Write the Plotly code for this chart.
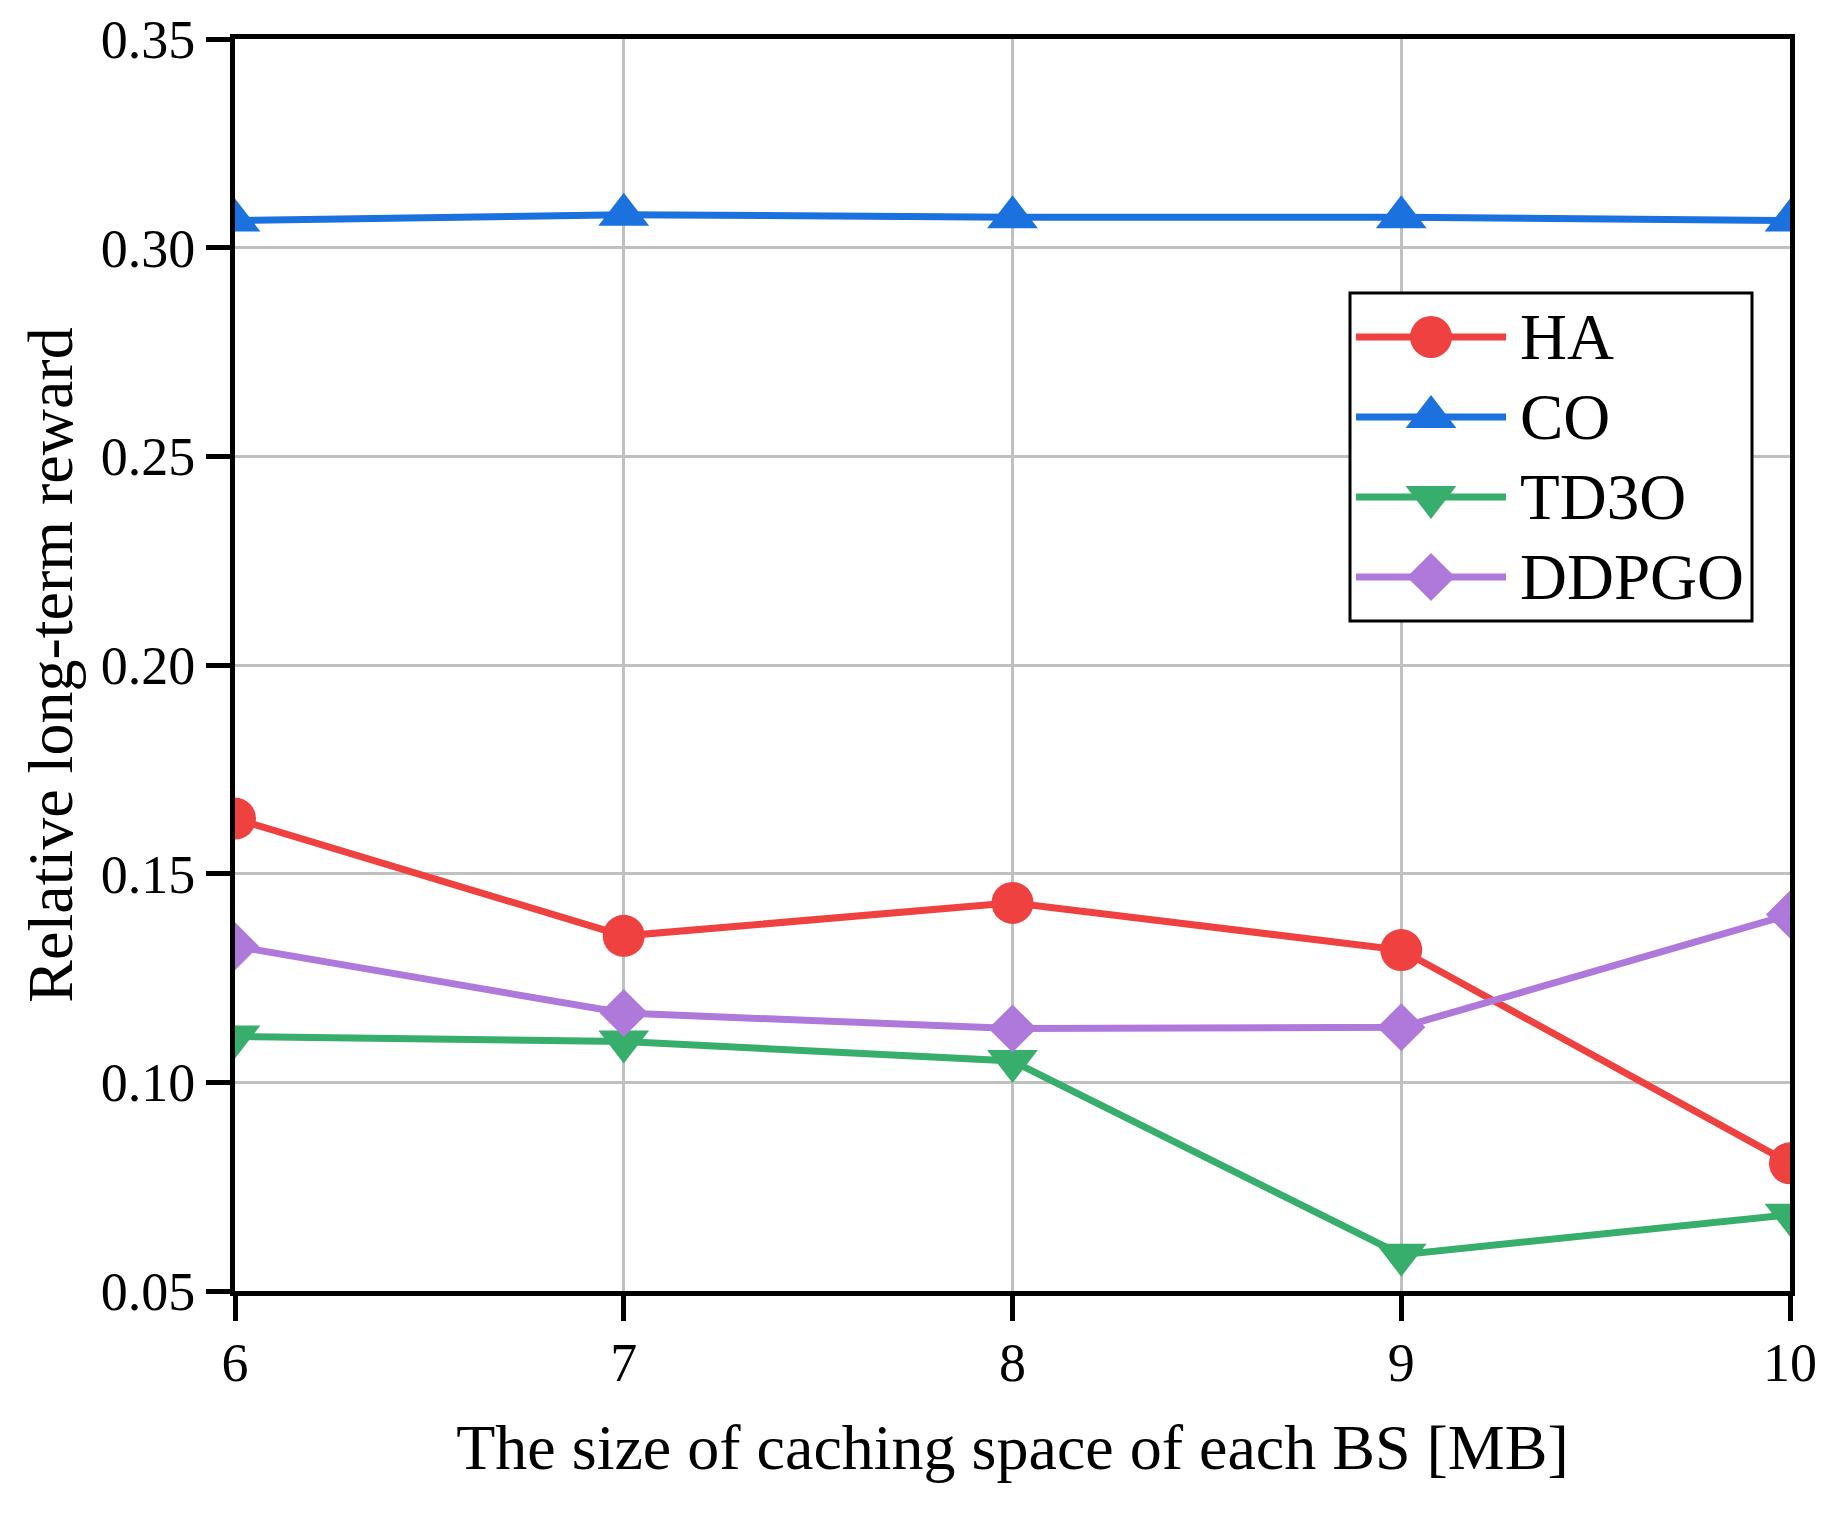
import plotly.graph_objects as go

# ---- data ----
cache_size = [6, 7, 8, 9, 10]
ha = [0.1632, 0.1351, 0.1430, 0.1317, 0.0806]
co = [0.3065, 0.3079, 0.3073, 0.3073, 0.3065]
td3o = [0.1110, 0.1098, 0.1051, 0.0587, 0.0683]
ddpgo = [0.1326, 0.1166, 0.1129, 0.1132, 0.1402]
series_names = ["HA", "CO", "TD3O", "DDPGO"]
y_ticks = [0.05, 0.10, 0.15, 0.20, 0.25, 0.30, 0.35]

colors = ["#F04141", "#1B71DE", "#37AE6B", "#AF79DC"]
symbols = ["circle", "triangle-up", "triangle-down", "diamond"]
sizes = [42, 44, 44, 37]
FONT = "Liberation Serif, Times New Roman, serif"

OFF = 8  # page body margin
W, H = 1837 - OFF, 1513 - OFF
L, R, T, B = 235 - OFF, 47, 39 - OFF, 222

fig = go.Figure()
for name, ys, c, s, sz in zip(series_names, [ha, co, td3o, ddpgo], colors, symbols, sizes):
    fig.add_trace(go.Scatter(
        x=cache_size, y=ys, name=name, mode="lines+markers",
        line=dict(color=c, width=7),
        marker=dict(symbol=s, size=sz, color=c, line=dict(width=0)),
        showlegend=False,
    ))

# ---- custom legend (shapes + annotations); positions in screen pixels ----
pw = W - L - R
ph = H - T - B
def px(X):
    return (X - OFF - L) / pw
def py(Y):
    return (H - B - (Y - OFF)) / ph

shapes = []
annotations = []
shapes.append(dict(type="rect", xref="paper", yref="paper",
                   x0=px(1350), x1=px(1752), y0=py(621), y1=py(293),
                   line=dict(color="black", width=3), fillcolor="white", layer="above"))
row_y = [337, 417, 497, 577]
mx = 1431
def marker_path(sym, size):
    r = size / 2
    rt = r * 2 / 3 ** 0.5
    rs = r / 2
    if sym == "triangle-up":
        return f"M{-rt},{-rs} L{rt},{-rs} L0,{r} Z"
    if sym == "triangle-down":
        return f"M{-rt},{rs} L{rt},{rs} L0,{-r} Z"
    rd = r * 1.3
    return f"M{-rd},0 L0,{rd} L{rd},0 L0,{-rd} Z"

for name, c, s, sz, yy in zip(series_names, colors, symbols, sizes, row_y):
    shapes.append(dict(type="line", xref="paper", yref="paper",
                       x0=px(1356), x1=px(1506), y0=py(yy), y1=py(yy),
                       line=dict(color=c, width=7), layer="above"))
    if s == "circle":
        r = sz / 2
        shapes.append(dict(type="circle", xref="paper", yref="paper",
                           xsizemode="pixel", ysizemode="pixel",
                           xanchor=px(mx), yanchor=py(yy),
                           x0=-r, x1=r, y0=-r, y1=r,
                           fillcolor=c, line=dict(width=0), layer="above"))
    else:
        shapes.append(dict(type="path", xref="paper", yref="paper",
                           xsizemode="pixel", ysizemode="pixel",
                           xanchor=px(mx), yanchor=py(yy),
                           path=marker_path(s, sz),
                           fillcolor=c, line=dict(width=0), layer="above"))
    annotations.append(dict(xref="paper", yref="paper", x=px(1518), y=py(yy),
                            text=name, showarrow=False, xanchor="left", yanchor="middle",
                            font=dict(family=FONT, size=65, color="black")))

fig.update_layout(
    width=W, height=H,
    margin=dict(l=L, r=R, t=T, b=B, pad=0, autoexpand=False),
    paper_bgcolor="white", plot_bgcolor="white",
    font=dict(family=FONT, color="black", size=54),
    shapes=shapes, annotations=annotations,
    showlegend=False,
)
fig.update_xaxes(
    range=[6, 10], tickvals=cache_size, ticktext=[str(v) for v in cache_size],
    showgrid=True, gridcolor="#C0C0C0", gridwidth=2.5,
    showline=True, linecolor="black", linewidth=5, mirror=True,
    ticks="outside", ticklen=25, tickwidth=5, tickcolor="black",
    tickfont=dict(family=FONT, size=54), zeroline=False, automargin=False,
    ticklabelstandoff=-5,
    title=dict(text="The size of caching space of each BS [MB]",
               font=dict(family=FONT, size=64), standoff=34),
)
fig.update_yaxes(
    range=[0.05, 0.35], tickvals=y_ticks, ticktext=[f"{v:.2f}" for v in y_ticks],
    showgrid=True, gridcolor="#C0C0C0", gridwidth=2.5,
    showline=True, linecolor="black", linewidth=5, mirror=True,
    ticks="outside", ticklen=24, tickwidth=5, tickcolor="black",
    tickfont=dict(family=FONT, size=54), zeroline=False, automargin=False,
    title=dict(text="Relative long-term reward",
               font=dict(family=FONT, size=64), standoff=9),
)

fig.write_html("out.html")
